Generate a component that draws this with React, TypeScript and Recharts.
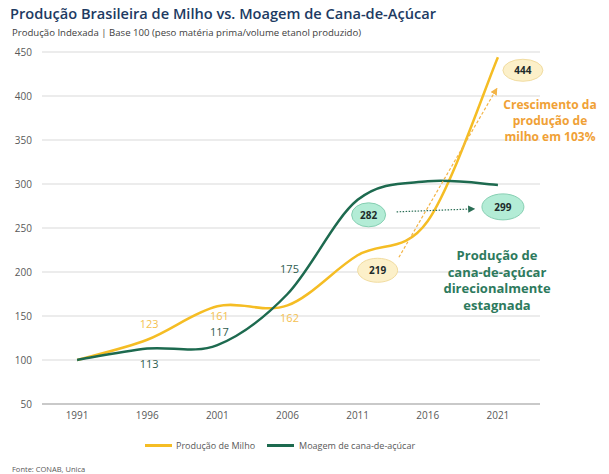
import { LineChart, Line, XAxis, YAxis, CartesianGrid, ReferenceDot } from "recharts";

const years = [1991, 1996, 2001, 2006, 2011, 2016, 2021];
const milho = [100, 123, 161, 162, 219, 258, 444];
const cana = [100, 113, 117, 175, 282, 303, 299];
const yTicks = [50, 100, 150, 200, 250, 300, 350, 400, 450];

const data = years.map((year, i) => ({ year, milho: milho[i], cana: cana[i] }));

const YELLOW = "#f5bd24";
const GREEN = "#1d6a4f";
const FONT = "'Open Sans', sans-serif";

// smooth line like Excel's "smoothed line" (Catmull-Rom through the points)
const smooth = (context: any) => {
  let pts: number[][] = [];
  return {
    areaStart() {},
    areaEnd() {},
    lineStart() {
      pts = [];
    },
    point(x: number, y: number) {
      pts.push([+x, +y]);
    },
    lineEnd() {
      if (!pts.length) return;
      context.moveTo(pts[0][0], pts[0][1]);
      for (let i = 0; i < pts.length - 1; i++) {
        const p0 = pts[Math.max(i - 1, 0)];
        const p1 = pts[i];
        const p2 = pts[i + 1];
        const p3 = pts[Math.min(i + 2, pts.length - 1)];
        context.bezierCurveTo(
          p1[0] + (p2[0] - p0[0]) / 6,
          p1[1] + (p2[1] - p0[1]) / 6,
          p2[0] - (p3[0] - p1[0]) / 6,
          p2[1] - (p3[1] - p1[1]) / 6,
          p2[0],
          p2[1]
        );
      }
    },
  };
};

// plain value labels: [index, dx, dy]
const milhoLabels = [
  [1, 2, -15],
  [2, 2, 11],
  [3, 2, 14],
];
const canaLabels = [
  [1, 2, 17],
  [2, 2, -12],
  [3, 2, -24],
];

const textLabel = (value: number, dx: number, dy: number, color: string) => (props: any) => (
  <text
    x={props.cx + dx}
    y={props.cy + dy}
    textAnchor="middle"
    dominantBaseline="middle"
    fontSize={11}
    fontFamily={FONT}
    fill={color}
  >
    {value}
  </text>
);

const bubble =
  (value: number, dx: number, dy: number, rx: number, ry: number, fill: string, stroke: string, extra?: (x: number, y: number) => any) =>
  (props: any) => {
    const x = props.cx + dx;
    const y = props.cy + dy;
    return (
      <g>
        {extra ? extra(x, y) : null}
        <ellipse cx={x} cy={y} rx={rx} ry={ry} fill={fill} stroke={stroke} strokeWidth={1} />
        <text
          x={x}
          y={y}
          textAnchor="middle"
          dominantBaseline="central"
          fontSize={10}
          fontWeight={700}
          fontFamily={FONT}
          fill="#1e2b2b"
        >
          {value}
        </text>
      </g>
    );
  };

const CREAM = "#fcf0c9";
const CREAM_S = "#f1dca0";
const MINT = "#b3ecd6";
const MINT_S = "#86cfb2";

const App = () => {
  return (
    <div style={{ position: "absolute", left: 0, top: 0, width: 609, height: 474, background: "#fff", fontFamily: FONT }}>
      <svg width={0} height={0} style={{ position: "absolute" }}>
        <defs>
          <marker id="arrGreen" viewBox="0 0 10 10" refX="9" refY="5" markerWidth="6" markerHeight="6" orient="auto">
            <path d="M0,0 L10,5 L0,10 z" fill="#2a6e55" />
          </marker>
          <marker id="arrOrange" viewBox="0 0 10 10" refX="9" refY="5" markerWidth="6" markerHeight="6" orient="auto">
            <path d="M0,0 L10,5 L0,10 z" fill="#f3b447" />
          </marker>
        </defs>
      </svg>
      <div style={{ position: "absolute", left: 10, top: 3, fontSize: 14.6, fontWeight: 600, color: "#203a62", whiteSpace: "nowrap" }}>
        Produção Brasileira de Milho vs. Moagem de Cana-de-Açúcar
      </div>
      <div style={{ position: "absolute", left: 12, top: 26, fontSize: 9.6, color: "#404040", whiteSpace: "nowrap" }}>
        Produção Indexada | Base 100 (peso matéria prima/volume etanol produzido)
      </div>
      <LineChart width={609} height={474} data={data} margin={{ top: 52, right: 69, left: 0, bottom: 50 }}>
        <CartesianGrid vertical={false} stroke="#d9d9d9" />
        <XAxis
          dataKey="year"
          type="number"
          domain={[1988.5, 2024]}
          ticks={years}
          tickLine={false}
          axisLine={{ stroke: "#a6a6a6" }}
          tick={{ fontSize: 10, fill: "#595959", fontFamily: FONT }}
          height={20}
          allowDataOverflow
        />
        <YAxis
          domain={[50, 450]}
          ticks={yTicks}
          width={42}
          tickLine={false}
          axisLine={false}
          tickMargin={4}
          tick={{ fontSize: 10, fill: "#595959", fontFamily: FONT }}
        />
        <Line dataKey="milho" type={smooth as any} stroke={YELLOW} strokeWidth={2.5} dot={false} activeDot={false} isAnimationActive={false} />
        <Line dataKey="cana" type={smooth as any} stroke={GREEN} strokeWidth={2.5} dot={false} activeDot={false} isAnimationActive={false} />
        {milhoLabels.map(([i, dx, dy]) => (
          <ReferenceDot key={"m" + i} x={years[i]} y={milho[i]} r={0} shape={textLabel(milho[i], dx, dy, "#f4c14f")} />
        ))}
        {canaLabels.map(([i, dx, dy]) => (
          <ReferenceDot key={"c" + i} x={years[i]} y={cana[i]} r={0} shape={textLabel(cana[i], dx, dy, "#2f5d4f")} />
        ))}
        <ReferenceDot
          x={years[4]}
          y={cana[4]}
          r={0}
          shape={bubble(cana[4], 11, 15, 17, 12, MINT, MINT_S, (x, y) => (
            <line x1={x + 28} y1={y - 3} x2={x + 106} y2={y - 6} stroke="#2a6e55" strokeWidth={1.2} strokeDasharray="1.5 1.5" markerEnd="url(#arrGreen)" />
          ))}
        />
        <ReferenceDot x={years[6]} y={cana[6]} r={0} shape={bubble(cana[6], 5, 22, 21, 13, MINT, MINT_S)} />
        <ReferenceDot x={years[4]} y={milho[4]} r={0} shape={bubble(milho[4], 20, 15, 20, 12, CREAM, CREAM_S)} />
        <ReferenceDot
          x={years[6]}
          y={milho[6]}
          r={0}
          shape={bubble(milho[6], 25, 13, 20, 11, CREAM, CREAM_S, (x, y) => (
            <line x1={x - 124} y1={y + 187} x2={x - 26} y2={y + 18} stroke="#f3b447" strokeWidth={1.2} strokeDasharray="3 2" markerEnd="url(#arrOrange)" />
          ))}
        />
      </LineChart>
      <div
        style={{
          position: "absolute",
          left: 490,
          top: 97,
          width: 120,
          textAlign: "center",
          fontSize: 12,
          fontWeight: 700,
          lineHeight: "16px",
          color: "#f0a136",
        }}
      >
        Crescimento da
        <br />
        produção de
        <br />
        milho em 103%
      </div>
      <div
        style={{
          position: "absolute",
          left: 427,
          top: 247,
          width: 140,
          textAlign: "center",
          fontSize: 13,
          fontWeight: 700,
          lineHeight: "16.5px",
          color: "#2d7a5d",
        }}
      >
        Produção de
        <br />
        cana-de-açúcar
        <br />
        direcionalmente
        <br />
        estagnada
      </div>
      <div style={{ position: "absolute", left: 145, top: 439, display: "flex", alignItems: "center", fontSize: 9, color: "#595959", whiteSpace: "nowrap" }}>
        <span style={{ display: "inline-block", width: 27, height: 3, background: YELLOW, marginRight: 4 }} />
        <span style={{ marginRight: 12 }}>Produção de Milho</span>
        <span style={{ display: "inline-block", width: 27, height: 3, background: GREEN, marginRight: 5 }} />
        <span>Moagem de cana-de-açúcar</span>
      </div>
      <div style={{ position: "absolute", left: 12, top: 464, fontSize: 7.5, color: "#595959", whiteSpace: "nowrap" }}>Fonte: CONAB, Unica</div>
    </div>
  );
};

export default App;
